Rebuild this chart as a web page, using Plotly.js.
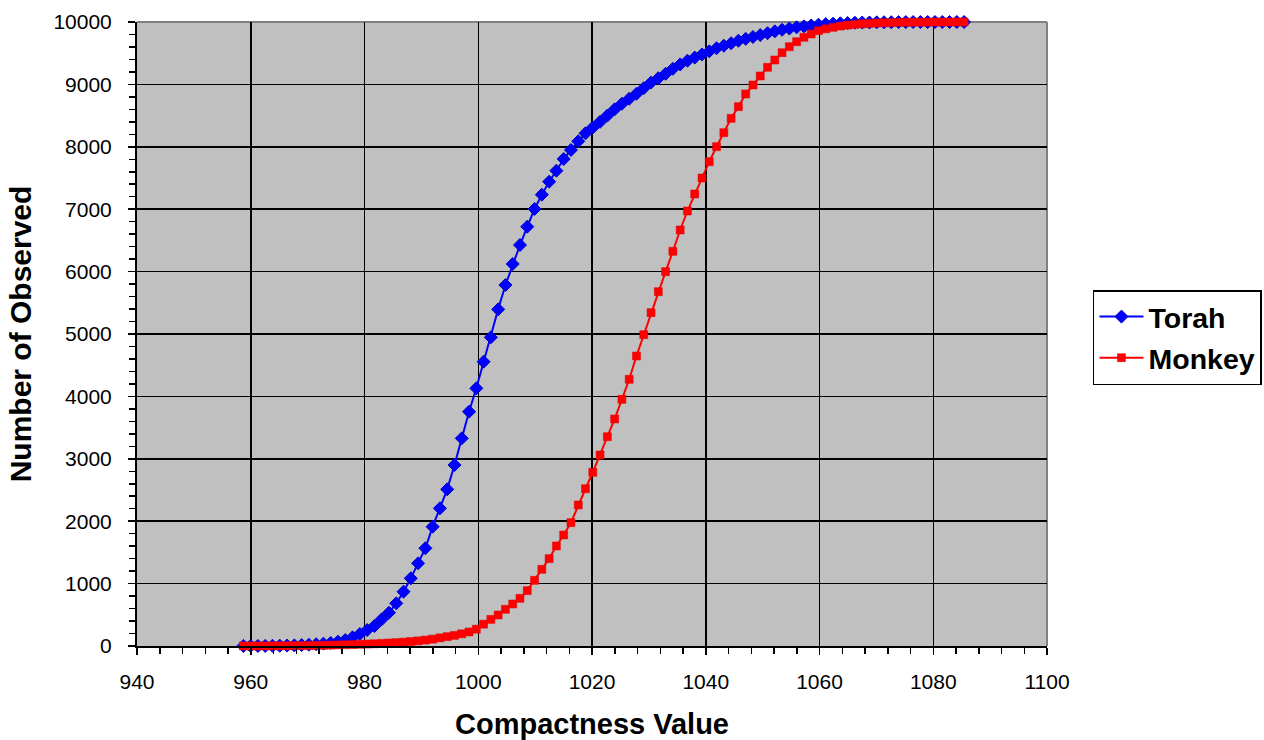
<!DOCTYPE html>
<html>
<head>
<meta charset="utf-8">
<script src="https://cdn.plot.ly/plotly-3.0.1.min.js"></script>
<style>
  html, body { margin: 0; padding: 0; background: #ffffff; }
  #chart { width: 1264px; height: 740px; }
</style>
</head>
<body>
<div id="chart"></div>
<script>
// Compactness values (bin positions shared by both series)
const compactness = [
  958.70, 959.98, 961.26, 962.54, 963.82, 965.10, 966.38, 967.66, 968.94, 970.22,
  971.50, 972.78, 974.06, 975.34, 976.62, 977.90, 979.18, 980.46, 981.74, 983.02,
  984.30, 985.58, 986.86, 988.14, 989.42, 990.70, 991.98, 993.26, 994.54, 995.82,
  997.10, 998.38, 999.66, 1000.94, 1002.22, 1003.50, 1004.78, 1006.06, 1007.34, 1008.62,
  1009.90, 1011.18, 1012.46, 1013.74, 1015.02, 1016.30, 1017.58, 1018.86, 1020.14, 1021.42,
  1022.70, 1023.98, 1025.26, 1026.54, 1027.82, 1029.10, 1030.38, 1031.66, 1032.94, 1034.22,
  1035.50, 1036.78, 1038.06, 1039.34, 1040.62, 1041.90, 1043.18, 1044.46, 1045.74, 1047.02,
  1048.30, 1049.58, 1050.86, 1052.14, 1053.42, 1054.70, 1055.98, 1057.26, 1058.54, 1059.82,
  1061.10, 1062.38, 1063.66, 1064.94, 1066.22, 1067.50, 1068.78, 1070.06, 1071.34, 1072.62,
  1073.90, 1075.18, 1076.46, 1077.74, 1079.02, 1080.30, 1081.58, 1082.86, 1084.14, 1085.42
];

// Number of observed (cumulative) - Torah
const torah = [
  1, 1, 1, 2, 3, 5, 7, 10, 15, 20,
  28, 38, 50, 70, 96, 139, 192, 256, 320, 427,
  534, 684, 870, 1085, 1325, 1566, 1912, 2206, 2511, 2901,
  3328, 3755, 4130, 4556, 4947, 5395, 5785, 6122, 6426, 6720,
  7003, 7233, 7441, 7617, 7804, 7949, 8088, 8216, 8310, 8400,
  8500, 8600, 8690, 8770, 8850, 8940, 9030, 9100, 9170, 9250,
  9320, 9380, 9430, 9480, 9530, 9580, 9620, 9660, 9700, 9730,
  9760, 9790, 9820, 9850, 9875, 9895, 9915, 9930, 9945, 9957,
  9966, 9973, 9979, 9984, 9988, 9991, 9993, 9995, 9996, 9997,
  9998, 9998, 9999, 9999, 9999, 10000, 10000, 10000, 10000, 10000
];

// Number of observed (cumulative) - Monkey
const monkey = [
  1, 1, 1, 2, 2, 3, 4, 5, 6, 8,
  10, 12, 14, 17, 20, 23, 27, 31, 36, 42,
  48, 55, 62, 72, 82, 95, 110, 130, 150, 170,
  195, 225, 270, 350, 427, 497, 588, 673, 764, 887,
  1052, 1229, 1400, 1603, 1779, 1977, 2260, 2520, 2783, 3061,
  3354, 3638, 3953, 4274, 4647, 4989, 5342, 5678, 5999, 6325,
  6667, 6971, 7244, 7500, 7761, 8002, 8226, 8456, 8643, 8846,
  8990, 9135, 9274, 9391, 9508, 9604, 9684, 9755, 9808, 9861,
  9890, 9915, 9935, 9950, 9962, 9971, 9978, 9984, 9988, 9991,
  9994, 9996, 9997, 9998, 9998, 9999, 9999, 10000, 10000, 10000
];

const seriesNames = ['Torah', 'Monkey'];
const xTickVals = [940, 960, 980, 1000, 1020, 1040, 1060, 1080, 1100];
const yTickVals = [0, 1000, 2000, 3000, 4000, 5000, 6000, 7000, 8000, 9000, 10000];

const traces = [
  {
    x: compactness, y: torah, name: seriesNames[0], type: 'scatter', mode: 'lines+markers',
    legendgroup: 'a',
    line: { color: '#0000FF', width: 2 },
    marker: { symbol: 'diamond', size: 10, color: '#0000FF', line: { color: '#0000CC', width: 1 } },
    cliponaxis: false
  },
  {
    x: compactness, y: monkey, name: seriesNames[1], type: 'scatter', mode: 'lines+markers',
    legendgroup: 'b',
    line: { color: '#FF0000', width: 2 },
    marker: { symbol: 'square', size: 8, color: '#FF0000', line: { color: '#E00000', width: 0.5 } },
    cliponaxis: false
  }
];

const tickFont = { family: 'Liberation Sans, Arial, sans-serif', size: 21, color: '#000' };
const xTitleFont = { family: 'Liberation Sans, Arial, sans-serif', size: 29, color: '#000', weight: 'bold' };
const yTitleFont = { family: 'Liberation Sans, Arial, sans-serif', size: 30, color: '#000', weight: 'bold' };

const layout = {
  width: 1264, height: 740,
  margin: { l: 137, r: 217, t: 22, b: 94, pad: 0 },
  paper_bgcolor: '#ffffff',
  plot_bgcolor: '#C0C0C0',
  showlegend: true,
  legend: {
    xref: 'container', yref: 'container',
    x: 0.8647, xanchor: 'left', y: 0.608, yanchor: 'top',
    bgcolor: '#ffffff', bordercolor: '#000000', borderwidth: 1.5,
    font: { family: 'Liberation Sans, Arial, sans-serif', size: 28.5, color: '#000', weight: 'bold' },
    traceorder: 'grouped', tracegroupgap: 1,
    itemwidth: 44
  },
  xaxis: {
    range: [940, 1100],
    tickvals: xTickVals,
    ticktext: xTickVals.map(String),
    ticks: 'outside', ticklen: 7, tickwidth: 1.5, tickcolor: '#000',
    minor: { dtick: 4, tick0: 940, ticks: 'outside', ticklen: 6, tickwidth: 1.5, tickcolor: '#000', showgrid: false },
    ticklabelstandoff: 9,
    showgrid: true, gridcolor: '#000000', gridwidth: 1.5,
    zeroline: false,
    showline: true, linecolor: '#000000', linewidth: 2,
    tickfont: tickFont,
    title: { text: 'Compactness Value', font: xTitleFont, standoff: 21 },
    automargin: false
  },
  yaxis: {
    range: [0, 10000],
    tickvals: yTickVals,
    ticktext: yTickVals.map(String),
    ticks: 'outside', ticklen: 7, tickwidth: 1.5, tickcolor: '#000',
    minor: { dtick: 200, tick0: 0, ticks: 'outside', ticklen: 6, tickwidth: 1.5, tickcolor: '#000', showgrid: false },
    ticklabelstandoff: 12,
    showgrid: true, gridcolor: '#000000', gridwidth: 1.5,
    zeroline: false,
    showline: true, linecolor: '#000000', linewidth: 2,
    tickfont: tickFont,
    title: { text: 'Number of Observed', font: yTitleFont, standoff: 13 },
    automargin: false
  },
  shapes: [
    { type: 'line', xref: 'paper', yref: 'paper', x0: 0, x1: 1, y0: 1, y1: 1, line: { color: '#808080', width: 2 }, layer: 'below' },
    { type: 'line', xref: 'paper', yref: 'paper', x0: 1, x1: 1, y0: 0, y1: 1, line: { color: '#808080', width: 2 }, layer: 'below' }
  ]
};

Plotly.newPlot('chart', traces, layout, { staticPlot: true, displayModeBar: false });
</script>
</body>
</html>
